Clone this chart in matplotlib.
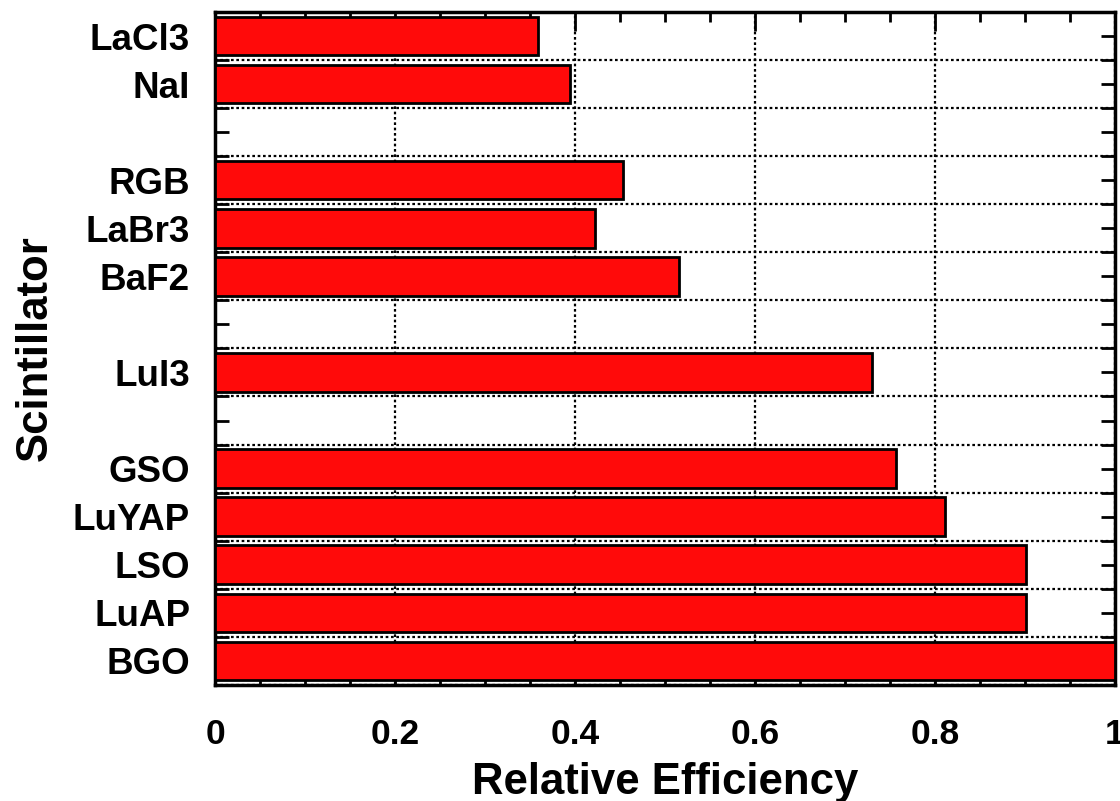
import numpy as np
import matplotlib.pyplot as plt
from matplotlib.ticker import MultipleLocator

plt.rcParams['font.family'] = ['Liberation Sans', 'DejaVu Sans']
plt.rcParams['font.weight'] = 'bold'

# scintillators from bottom to top, blank entries are gaps
names = ['BGO', 'LuAP', 'LSO', 'LuYAP', 'GSO', '', 'LuI3', '', 'BaF2', 'LaBr3', 'RGB', '', 'NaI', 'LaCl3']
eff = [1.0, 0.901, 0.901, 0.811, 0.757, 0, 0.730, 0, 0.516, 0.422, 0.453, 0, 0.394, 0.359]

pos = np.arange(len(names))
vals = np.array(eff)
mask = np.array([n != '' for n in names])

fig = plt.figure(figsize=(11.2, 8.01), dpi=100)
ax = fig.add_axes([0.192, 0.145, 0.8035, 0.84])

ax.barh(pos[mask], vals[mask], height=0.8, color='#ff0a0a', edgecolor='black',
        linewidth=2, zorder=3)

ax.set_xlim(0, 1)
ax.set_ylim(-0.5, len(names) - 0.5)
ax.set_yticks(pos)
ax.set_yticklabels(names)
ax.yaxis.set_minor_locator(MultipleLocator(1, offset=0.5))
ax.xaxis.set_minor_locator(MultipleLocator(0.05))
ax.set_xticks([0, 0.2, 0.4, 0.6, 0.8, 1.0])
ax.set_xticklabels(['0', '0.2', '0.4', '0.6', '0.8', '1'])

ax.grid(True, axis='x', which='major', linestyle=(0, (1.2, 1.2)), color='black', linewidth=1.6, zorder=0)
ax.grid(True, axis='y', which='minor', linestyle=(0, (1.2, 1.2)), color='black', linewidth=1.6, zorder=0)
ax.set_axisbelow(True)

ax.tick_params(axis='both', which='both', direction='in', top=True, right=True, width=2)
ax.tick_params(axis='x', which='major', length=14, labelsize=25.5, pad=24)
ax.tick_params(axis='x', which='minor', length=7)
ax.tick_params(axis='y', which='major', length=10, labelsize=26.5, pad=18)
ax.tick_params(axis='y', which='minor', length=10)

for s in ax.spines.values():
    s.set_linewidth(2.5)

ax.set_xlabel('Relative Efficiency', fontsize=31.5, fontweight='bold', labelpad=8)
ax.set_ylabel('Scintillator', fontsize=31.5, fontweight='bold')
ax.yaxis.set_label_coords(-0.177, 0.5)

fig.savefig('out.png', dpi=100)
